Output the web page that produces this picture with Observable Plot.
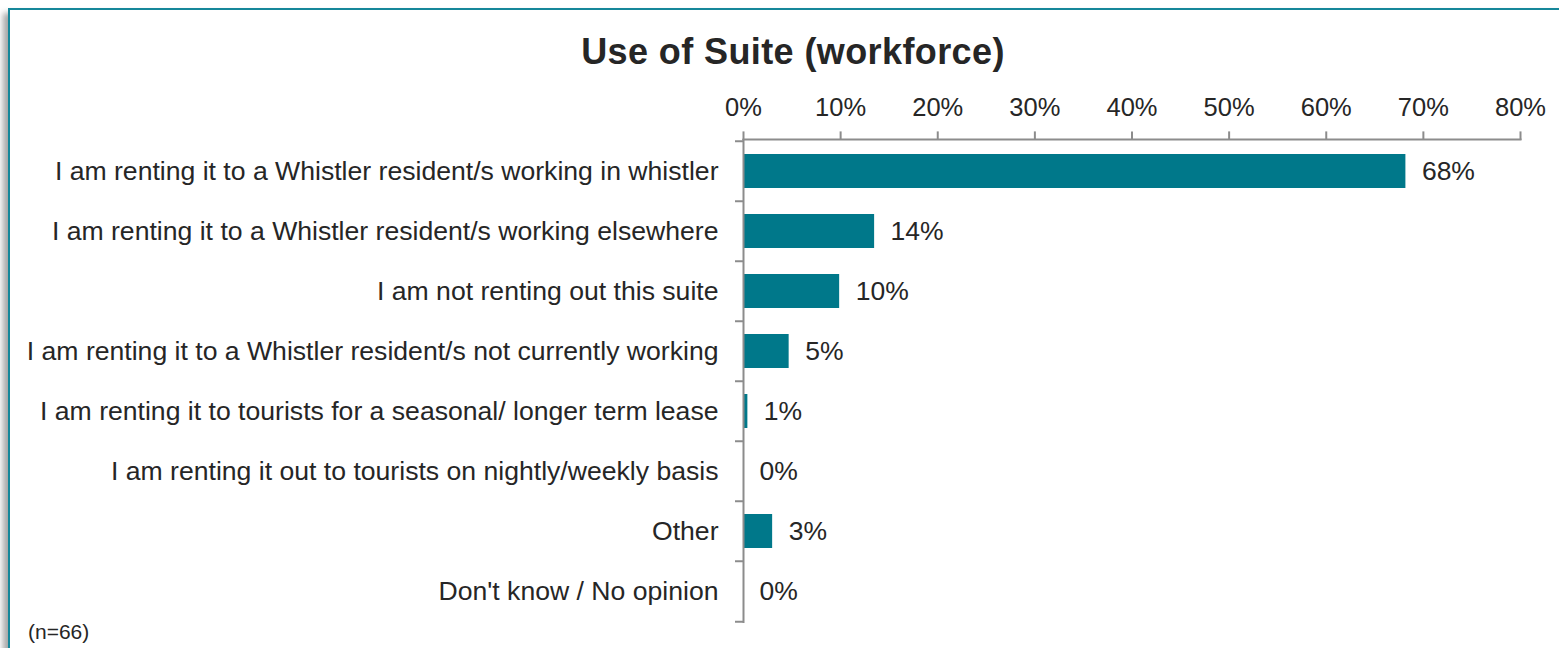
<!DOCTYPE html>
<html>
<head>
<meta charset="utf-8">
<script src="https://cdn.jsdelivr.net/npm/d3@7"></script>
<script src="https://cdn.jsdelivr.net/npm/@observablehq/plot@0.6"></script>
<style>
  html, body { margin: 0; padding: 0; background: #fff; overflow: hidden; }
  body { width: 1559px; height: 648px; position: relative; font-family: "Liberation Sans", Arial, sans-serif; }
  #frame { position: absolute; left: 8px; top: 8px; width: 1700px; height: 800px;
           border-left: 2.5px solid #16879a; border-top: 2.5px solid #16879a;
           box-shadow: -5px 5px 6px rgba(0,0,0,0.35); background: #fff; }
  #title { position: relative; height: 80px; }
  #title span { position: absolute; left: 793px; top: 34px; transform: translateX(-50%);
                font-weight: bold; font-size: 36px; line-height: 1; letter-spacing: 0.4px;
                color: #262626; white-space: nowrap; }
  #chart { position: relative; height: 568px; }
  #caption { position: absolute; left: 28px; top: 621px; font-size: 21px; line-height: 1; color: #262626; }
</style>
</head>
<body>
<div id="frame"></div>
<div id="title"><span>Use of Suite (workforce)</span></div>
<div id="chart"></div>
<div id="caption">(n=66)</div>
<script>
const categories = [
  "I am renting it to a Whistler resident/s working in whistler",
  "I am renting it to a Whistler resident/s working elsewhere",
  "I am not renting out this suite",
  "I am renting it to a Whistler resident/s not currently working",
  "I am renting it to tourists for a seasonal/ longer term lease",
  "I am renting it out to tourists on nightly/weekly basis",
  "Other",
  "Don't know / No opinion"
];
const values = [68.2, 13.5, 9.9, 4.7, 0.45, 0, 3.0, 0];
const valueLabels = ["68%", "14%", "10%", "5%", "1%", "0%", "3%", "0%"];
const xTicks = [0, 10, 20, 30, 40, 50, 60, 70, 80];

const data = categories.map((c, i) => ({category: c, value: values[i], label: valueLabels[i]}));

const width = 1559, height = 568;
const marginTop = 59, marginBottom = 25, marginLeft = 743, marginRight = 39;
const step = (height - marginTop - marginBottom) / categories.length;
const axisColor = "#8c8c8c";
const textColor = "#262626";

const chart = Plot.plot({
  width, height, marginTop, marginBottom, marginLeft, marginRight,
  style: {fontFamily: "'Liberation Sans', Arial, sans-serif", background: "transparent", overflow: "visible"},
  x: {domain: [0, 80], ticks: xTicks},
  y: {domain: categories, padding: 0},
  marks: [
    Plot.barX(data, {x: "value", y: "category", fill: "#00788a", insetTop: 13, insetBottom: 13}),
    Plot.frame({anchor: "top", stroke: axisColor, strokeWidth: 2}),
    Plot.ruleX([0], {stroke: axisColor, strokeWidth: 2}),
    Plot.ruleY(categories, {y: d => d, x1: 0, x2: 0, insetLeft: -8, dy: -step / 2, stroke: axisColor, strokeWidth: 2}),
    Plot.ruleY(categories.slice(-1), {y: d => d, x1: 0, x2: 0, insetLeft: -8, dy: step / 2, stroke: axisColor, strokeWidth: 2}),
    Plot.axisX({anchor: "top", ticks: xTicks, tickFormat: d => d + "%", tickSize: 8.6, tickPadding: 14.7,
                stroke: axisColor, strokeWidth: 2, fill: textColor, fontSize: 25.5, label: null}),
    Plot.axisY({tickSize: 0, tickPadding: 25, fill: textColor, fontSize: 26.6, label: null}),
    Plot.text(data, {x: "value", y: "category", text: "label", dx: 16, textAnchor: "start",
                     fontSize: 26.5, fill: textColor})
  ]
});
document.getElementById("chart").appendChild(chart);
</script>
</body>
</html>
